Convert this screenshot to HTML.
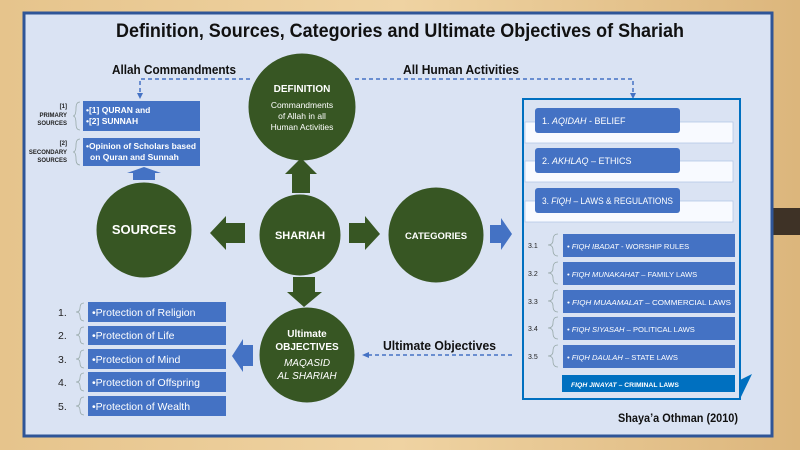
<!DOCTYPE html>
<html><head><style>html,body{margin:0;padding:0;width:800px;height:450px;overflow:hidden;background:#e2c38e}</style></head>
<body>
<svg width="800" height="450" viewBox="0 0 800 450" xmlns="http://www.w3.org/2000/svg" font-family="Liberation Sans, sans-serif">
<defs>
<linearGradient id="wood" x1="0" y1="0" x2="1" y2="0"><stop offset="0" stop-color="#e6c48c"/><stop offset="0.5" stop-color="#efd3a2"/><stop offset="1" stop-color="#dcb67c"/></linearGradient>
</defs>
<rect width="800" height="450" fill="url(#wood)"/>
<rect x="772" y="208" width="28" height="27" fill="#3e3226"/>
<rect x="24" y="13" width="748" height="423" fill="#dae3f3" stroke="#2f5597" stroke-width="3"/>
<text x="400" y="37" text-anchor="middle" font-size="19" font-weight="bold" fill="#111" textLength="568" lengthAdjust="spacingAndGlyphs">Definition, Sources, Categories and Ultimate Objectives of Shariah</text>

<text x="112" y="74" font-size="13" font-weight="bold" fill="#111" textLength="124" lengthAdjust="spacingAndGlyphs">Allah Commandments</text>
<text x="403" y="74" font-size="13" font-weight="bold" fill="#111" textLength="116" lengthAdjust="spacingAndGlyphs">All Human Activities</text>
<text x="383" y="350" font-size="13" font-weight="bold" fill="#111" textLength="113" lengthAdjust="spacingAndGlyphs">Ultimate Objectives</text>
<g stroke="#4472c4" stroke-width="1.5" stroke-dasharray="4,3" fill="none">
<path d="M250 79 H140 V94"/>
<path d="M355 79 H633 V94"/>
<path d="M512 355 H368"/>
</g>
<g fill="#4472c4"><path d="M137 93 L143 93 L140 99Z"/><path d="M630 93 L636 93 L633 99Z"/><path d="M362 355 L369 352 L369 358Z"/></g>

<g fill="#375623" stroke="#dae3f3" stroke-width="1">
<circle cx="302" cy="107" r="54"/>
<circle cx="300" cy="235" r="41"/>
<circle cx="436" cy="235" r="48"/>
<circle cx="144" cy="230" r="48"/>
<circle cx="307" cy="355" r="48"/>
</g>
<g fill="#fff" text-anchor="middle">
<text x="302" y="92" font-size="10" font-weight="bold">DEFINITION</text>
<text x="302" y="108" font-size="8.5">Commandments</text>
<text x="302" y="119" font-size="8.5">of Allah in all</text>
<text x="302" y="130" font-size="8.5">Human Activities</text>
<text x="300" y="239" font-size="11" font-weight="bold">SHARIAH</text>
<text x="436" y="239" font-size="9.5" font-weight="bold">CATEGORIES</text>
<text x="144" y="234" font-size="13" font-weight="bold">SOURCES</text>
<text x="307" y="337" font-size="10" font-weight="bold">Ultimate</text>
<text x="307" y="350" font-size="10" font-weight="bold">OBJECTIVES</text>
<text x="307" y="366" font-size="10" font-style="italic">MAQASID</text>
<text x="307" y="379" font-size="10" font-style="italic">AL SHARIAH</text>
</g>

<g fill="#375623">
<path d="M292 193 V174 H285 L301 158 L317 174 H310 V193Z"/>
<path d="M245 223 H226 V216 L210 233 L226 250 V243 H245Z"/>
<path d="M349 223 H365 V216 L380 234 L365 250 V243 H349Z"/>
<path d="M293 277 H315 V292 H322 L304 307 L287 292 H293Z"/>
</g>
<g fill="#4472c4">
<path d="M490 225 H501 V218 L512 234 L501 250 V243 H490Z"/>
<path d="M253 345 H243 V339 L232 356 L243 372 V366 H253Z"/>
<path d="M133 180 V173 H127 L144 167 L161 173 H155 V180Z"/>
</g>

<rect x="83" y="101" width="117" height="30" fill="#4472c4"/>
<rect x="83" y="138" width="117" height="28" fill="#4472c4"/>
<g fill="#fff" font-size="8.5" font-weight="bold">
<text x="86" y="113">•[1] QURAN and</text>
<text x="86" y="124">•[2] SUNNAH</text>
<text x="86" y="149" textLength="110" lengthAdjust="spacingAndGlyphs">•Opinion of Scholars based</text>
<text x="90" y="160">on Quran and Sunnah</text>
</g>
<g fill="#222" font-size="6" font-weight="bold" text-anchor="end">
<text x="67" y="108">[1]</text><text x="67" y="117">PRIMARY</text><text x="67" y="125">SOURCES</text>
<text x="67" y="145">[2]</text><text x="67" y="154">SECONDARY</text><text x="67" y="162">SOURCES</text>
</g>
<g stroke="#9aa" fill="none" stroke-width="0.8">
<path d="M80 102 Q76 102 76 108 Q76 116 73 116 Q76 116 76 124 Q76 130 80 130"/>
<path d="M80 139 Q76 139 76 145 Q76 152 73 152 Q76 152 76 159 Q76 165 80 165"/>
</g>

<g fill="#4472c4">
<rect x="88" y="302" width="138" height="20"/><rect x="88" y="326" width="138" height="19"/>
<rect x="88" y="349" width="138" height="20"/><rect x="88" y="372" width="138" height="20"/>
<rect x="88" y="396" width="138" height="20"/>
</g>
<g fill="#fff" font-size="10.5">
<text x="92" y="316">•Protection of Religion</text>
<text x="92" y="339">•Protection  of Life</text>
<text x="92" y="363">•Protection of Mind</text>
<text x="92" y="386">•Protection of Offspring</text>
<text x="92" y="410">•Protection of Wealth</text>
</g>
<g fill="#222" font-size="10.5">
<text x="58" y="316">1.</text><text x="58" y="339">2.</text><text x="58" y="363">3.</text><text x="58" y="386">4.</text><text x="58" y="410">5.</text>
</g>
<g stroke="#9aa" fill="none" stroke-width="0.8">
<path d="M84 303 Q80 303 80 308 Q80 312 76 312 Q80 312 80 316 Q80 321 84 321"/>
<path d="M84 327 Q80 327 80 331 Q80 335 76 335 Q80 335 80 339 Q80 344 84 344"/>
<path d="M84 350 Q80 350 80 355 Q80 359 76 359 Q80 359 80 363 Q80 368 84 368"/>
<path d="M84 373 Q80 373 80 378 Q80 382 76 382 Q80 382 80 386 Q80 391 84 391"/>
<path d="M84 397 Q80 397 80 402 Q80 406 76 406 Q80 406 80 410 Q80 415 84 415"/>
</g>

<rect x="523" y="99" width="217" height="300" fill="#dae3f3" stroke="#0070c0" stroke-width="2"/>
<path d="M740 380 L752 374 L740 399Z" fill="#0070c0"/>
<g fill="#f8faff" stroke="#b4c7e7" stroke-width="0.8">
<rect x="525" y="122" width="208" height="21"/><rect x="525" y="161" width="208" height="21"/><rect x="525" y="201" width="208" height="21"/>
</g>
<g fill="#4472c4">
<rect x="535" y="108" width="145" height="25" rx="3"/><rect x="535" y="148" width="145" height="25" rx="3"/><rect x="535" y="188" width="145" height="25" rx="3"/>
</g>
<g fill="#fff" font-size="9">
<text x="542" y="124">1. <tspan font-style="italic">AQIDAH</tspan> - BELIEF</text>
<text x="542" y="164">2. <tspan font-style="italic">AKHLAQ</tspan> –  ETHICS</text>
<text x="542" y="204" textLength="131" lengthAdjust="spacingAndGlyphs">3. <tspan font-style="italic">FIQH</tspan> – LAWS &amp; REGULATIONS</text>
</g>
<g fill="#4472c4">
<rect x="563" y="234" width="172" height="23"/><rect x="563" y="262" width="172" height="23"/>
<rect x="563" y="290" width="172" height="23"/><rect x="563" y="317" width="172" height="23"/>
<rect x="563" y="345" width="172" height="23"/>
</g>
<rect x="562" y="375" width="173" height="17" fill="#0070c0"/>
<g fill="#fff" font-size="7.6">
<text x="567" y="249"><tspan font-style="italic">• FIQH IBADAT</tspan> - WORSHIP RULES</text>
<text x="567" y="277"><tspan font-style="italic">• FIQH  MUNAKAHAT</tspan> – FAMILY LAWS</text>
<text x="567" y="305" textLength="164" lengthAdjust="spacingAndGlyphs"><tspan font-style="italic">• FIQH MUAAMALAT</tspan> – COMMERCIAL LAWS</text>
<text x="567" y="332"><tspan font-style="italic">• FIQH SIYASAH</tspan> – POLITICAL LAWS</text>
<text x="567" y="360"><tspan font-style="italic">• FIQH DAULAH</tspan> – STATE LAWS</text>
<text x="571" y="387" font-size="6.8" font-weight="bold"><tspan font-style="italic">FIQH JINAYAT</tspan> – CRIMINAL LAWS</text>
</g>
<g fill="#222" font-size="7">
<text x="528" y="248">3.1</text><text x="528" y="276">3.2</text><text x="528" y="304">3.3</text><text x="528" y="331">3.4</text><text x="528" y="359">3.5</text>
</g>
<g stroke="#9aa" fill="none" stroke-width="0.8">
<path d="M558 234 Q553 234 553 240 Q553 245 548 245 Q553 245 553 250 Q553 256 558 256"/>
<path d="M558 262 Q553 262 553 268 Q553 273 548 273 Q553 273 553 278 Q553 284 558 284"/>
<path d="M558 290 Q553 290 553 296 Q553 301 548 301 Q553 301 553 306 Q553 312 558 312"/>
<path d="M558 317 Q553 317 553 323 Q553 328 548 328 Q553 328 553 333 Q553 339 558 339"/>
<path d="M558 345 Q553 345 553 351 Q553 356 548 356 Q553 356 553 361 Q553 367 558 367"/>
</g>
<text x="738" y="422" text-anchor="end" font-size="12" font-weight="bold" fill="#111" textLength="120" lengthAdjust="spacingAndGlyphs">Shaya’a Othman (2010)</text>
</svg>
</body></html>
